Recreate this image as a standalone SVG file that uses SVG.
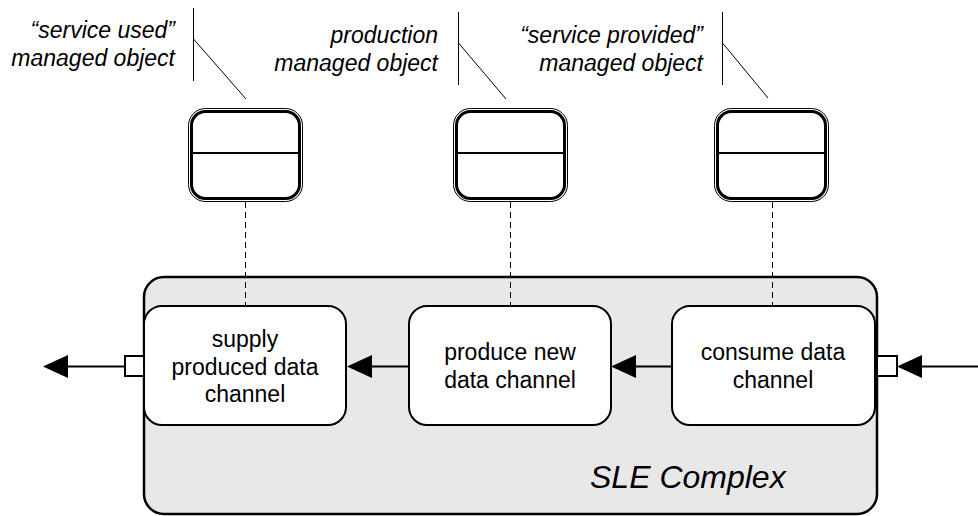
<svg xmlns="http://www.w3.org/2000/svg" width="978" height="516" viewBox="0 0 978 516">
<style>
.lbl{font-family:"Liberation Sans",Arial,sans-serif;font-style:italic;font-size:23px;fill:#000;text-anchor:end}
.txt{font-family:"Liberation Sans",Arial,sans-serif;font-size:23px;fill:#000;text-anchor:middle}
.big{font-family:"Liberation Sans",Arial,sans-serif;font-style:italic;font-size:32px;fill:#000}
.mo-out{fill:#fff;stroke:#000;stroke-width:1}
.mo-in{fill:none;stroke:#000;stroke-width:3}
.proc{fill:#fff;stroke:#000;stroke-width:2}
.thin{stroke:#000;stroke-width:1;fill:none}
.dash{stroke:#000;stroke-width:1;stroke-dasharray:6 4;fill:none}
.flow{stroke:#000;stroke-width:2;fill:none}
.head{fill:#000;stroke:none}
.port{fill:#fff;stroke:#000;stroke-width:2}
</style>
<g id="complex">
<rect x="144" y="277" width="733" height="237" rx="20" fill="#e8e8e8" stroke="#000" stroke-width="2.5"/>
<text class="big" x="590" y="488">SLE Complex</text>
</g>
<g id="connectors">
<line class="dash" x1="245.5" y1="202" x2="245.5" y2="306"/>
<line class="dash" x1="510.5" y1="202" x2="510.5" y2="306"/>
<line class="dash" x1="772.5" y1="202" x2="772.5" y2="306"/>
<polyline class="thin" points="193.5,8 193.5,81"/>
<line class="thin" x1="193.5" y1="39" x2="246" y2="99"/>
<polyline class="thin" points="458.5,12 458.5,85"/>
<line class="thin" x1="458.5" y1="43" x2="506" y2="99"/>
<polyline class="thin" points="722.5,12 722.5,85"/>
<line class="thin" x1="722.5" y1="43" x2="768" y2="98"/>
<line class="flow" x1="125" y1="366.5" x2="66" y2="366.5"/>
<polygon class="head" points="43,366.5 68,355 68,378"/>
<line class="flow" x1="409" y1="366.5" x2="370" y2="366.5"/>
<polygon class="head" points="347,366.5 372,355 372,378"/>
<line class="flow" x1="672" y1="366.5" x2="634" y2="366.5"/>
<polygon class="head" points="611,366.5 636,355 636,378"/>
<line class="flow" x1="978" y1="366.5" x2="919" y2="366.5"/>
<polygon class="head" points="897,366.5 922,355 922,378"/>
</g>
<g id="mo-used">
<rect class="mo-out" x="188.5" y="108.5" width="114" height="93" rx="17"/>
<rect class="mo-in" x="191.5" y="111.5" width="108" height="87" rx="14"/>
<line x1="191" y1="153" x2="300" y2="153" stroke="#000" stroke-width="2"/>
<text class="lbl" x="175" y="38">“service used”</text>
<text class="lbl" x="175" y="66">managed object</text>
</g>
<g id="mo-production">
<rect class="mo-out" x="453.5" y="108.5" width="114" height="93" rx="17"/>
<rect class="mo-in" x="456.5" y="111.5" width="108" height="87" rx="14"/>
<line x1="456" y1="153" x2="565" y2="153" stroke="#000" stroke-width="2"/>
<text class="lbl" x="438" y="43">production</text>
<text class="lbl" x="438" y="71">managed object</text>
</g>
<g id="mo-provided">
<rect class="mo-out" x="714.5" y="108.5" width="114" height="93" rx="17"/>
<rect class="mo-in" x="717.5" y="111.5" width="108" height="87" rx="14"/>
<line x1="717" y1="153" x2="826" y2="153" stroke="#000" stroke-width="2"/>
<text class="lbl" x="703" y="43">“service provided”</text>
<text class="lbl" x="703" y="71">managed object</text>
</g>
<g id="supply">
<rect class="proc" x="144" y="306" width="202" height="119" rx="18"/>
<text class="txt" x="245" y="347">supply</text>
<text class="txt" x="245" y="375">produced data</text>
<text class="txt" x="245" y="402">channel</text>
</g>
<g id="produce">
<rect class="proc" x="409" y="306" width="202" height="119" rx="18"/>
<text class="txt" x="510" y="360">produce new</text>
<text class="txt" x="510" y="388">data channel</text>
</g>
<g id="consume">
<rect class="proc" x="672" y="306" width="203" height="119" rx="18"/>
<text class="txt" x="773" y="360">consume data</text>
<text class="txt" x="773" y="388">channel</text>
</g>
<g id="ports">
<rect class="port" x="125" y="356" width="19" height="20"/>
<rect class="port" x="877" y="356" width="20" height="20"/>
</g>
</svg>
